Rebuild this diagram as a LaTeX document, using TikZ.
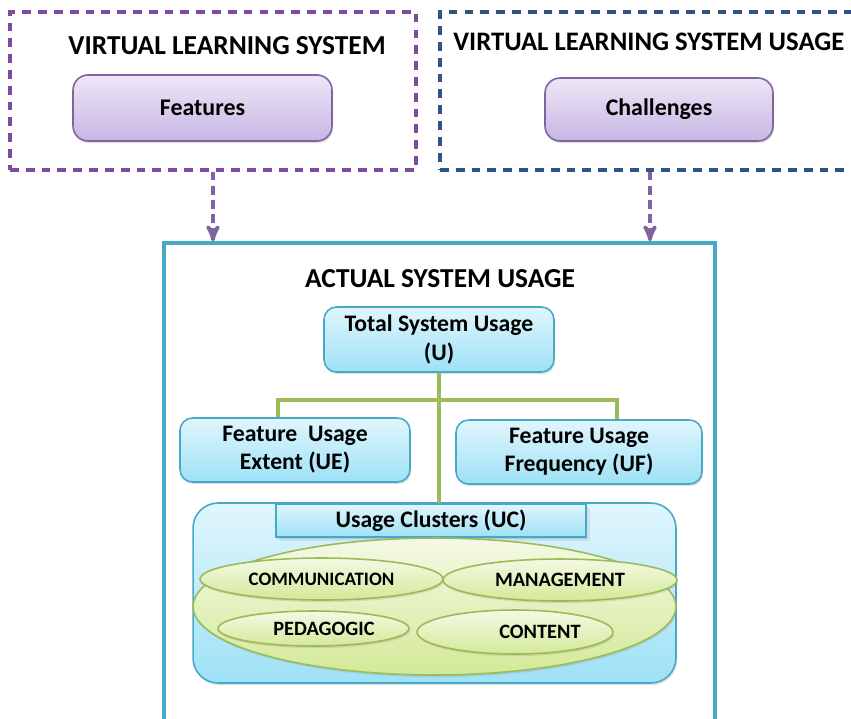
\documentclass[tikz,border=0pt]{standalone}
\usepackage{fontspec}
\setmainfont{Carlito}
\usetikzlibrary{arrows,positioning,shapes.geometric,shadows}
\definecolor{lavender}{RGB}{128,100,162}
\definecolor{lavtop}{RGB}{237,231,246}
\definecolor{lavbot}{RGB}{200,182,228}
\definecolor{dashpurple}{RGB}{125,75,160}
\definecolor{dashblue}{RGB}{47,85,130}
\definecolor{asucyan}{RGB}{70,170,198}
\definecolor{skytop}{RGB}{224,246,253}
\definecolor{skybot}{RGB}{158,225,246}
\definecolor{treegreen}{RGB}{155,187,89}
\definecolor{limetop}{RGB}{244,249,229}
\definecolor{limebot}{RGB}{212,233,152}

\begin{document}
\begin{tikzpicture}[x=0.02cm,y=-0.02cm,>=stealth',
   semithick, font=\bfseries,
   frame/.style={draw, dash pattern=on 5pt off 4pt, line width=1.9pt, inner sep=0pt},
   purplebox/.style={draw=lavender, line width=0.9pt, rounded corners=3mm, top color=lavtop, bottom color=lavbot,
      drop shadow={opacity=0.25, shadow xshift=0.6pt, shadow yshift=-1.2pt}, font=\fontsize{13.6}{16}\selectfont\bfseries},
   bluebox/.style={draw=asucyan, line width=0.9pt, rounded corners=2.5mm, top color=skytop, bottom color=skybot,
      drop shadow={opacity=0.25, shadow xshift=0.6pt, shadow yshift=-1.2pt}, align=center, font=\fontsize{13.5}{16}\selectfont\bfseries},
   blob/.style={ellipse, draw=treegreen, line width=0.9pt, inner sep=0pt, top color=limetop, bottom color=limebot,
      drop shadow={opacity=0.2, shadow xshift=0.6pt, shadow yshift=-1.2pt}, font=\fontsize{11.6}{13}\selectfont\bfseries},
   flow/.style={-stealth', draw=lavender, dash pattern=on 5pt off 3pt, line width=2pt},
   tree/.style={draw=treegreen, line width=2pt},
   heading/.style={font=\fontsize{15.6}{18}\selectfont\bfseries}]
  \clip (0,0) rectangle (851,718);
  \useasboundingbox (0,0) rectangle (851,718);

  % top row
  \node[frame, draw=dashpurple, minimum width=8.12cm, minimum height=3.16cm] (vls) at (213,91) {};
  \node[frame, draw=dashblue, minimum width=8.4cm, minimum height=3.16cm] (vlsu) at (650,91) {};
  \node[heading] (vlstitle) at (227,46) {VIRTUAL LEARNING SYSTEM};
  \node[heading, font=\fontsize{15.2}{18}\selectfont\bfseries, anchor=west] (vlsutitle) at (447,42) {VIRTUAL LEARNING SYSTEM USAGE};
  \node[purplebox, minimum width=5.18cm, minimum height=1.32cm] (feat) at (202.5,108) {Features};
  \node[purplebox, minimum width=4.56cm, minimum height=1.26cm] (chal) at (659,109.5) {Challenges};

  % actual usage
  \node[draw=asucyan, line width=2pt, minimum width=11.02cm, minimum height=9.74cm, inner sep=0pt] (asu) at (439.5,486.5) {};
  \node[heading] (asutitle) at (440,279) {ACTUAL SYSTEM USAGE};
  \node[bluebox, minimum width=4.6cm, minimum height=1.3cm] (tsu) at (439,339.5) {Total System Usage\\(U)};
  \node[bluebox, minimum width=4.6cm, minimum height=1.28cm] (ue) at (295,450) {Feature~~Usage\\Extent (UE)};
  \node[bluebox, minimum width=4.92cm, minimum height=1.28cm] (uf) at (579,452) {Feature Usage\\Frequency (UF)};

  % clusters
  \node[bluebox, rounded corners=5mm, minimum width=9.66cm, minimum height=3.6cm] (clus) at (434.5,593) {};
  \node[bluebox, rounded corners=0pt, drop shadow={opacity=0.15}, minimum width=6.2cm, minimum height=0.66cm] (uc) at (431,520.5) {Usage Clusters (UC)};
  \node[blob, minimum width=9.66cm, minimum height=2.74cm] (all) at (434.5,606.5) {};
  \node[blob, font=\fontsize{10.8}{13}\selectfont\bfseries, minimum width=4.86cm, minimum height=0.84cm] (comm) at (321.5,579) {COMMUNICATION};
  \node[blob, minimum width=4.68cm, minimum height=0.84cm] (mgmt) at (560,580) {MANAGEMENT};
  \node[blob, minimum width=3.82cm, minimum height=0.7cm] (ped) at (313.5,628.5) {\hspace*{0.42cm}PEDAGOGIC};
  \node[blob, minimum width=3.92cm, minimum height=0.88cm] (cont) at (515,632) {\hspace*{1cm}CONTENT};

  \coordinate (bus) at (439,400);
  \path[tree] (tsu.south) -- (tsu.south |- uc.north);
  \path[tree] (ue.north -| 278,0) |- (bus) -| (uf.north -| 617,0);

  \path[flow] (vls.south) -- (vls.south |- asu.north);
  \path[flow] (vlsu.south) -- (vlsu.south |- asu.north);
\end{tikzpicture}
\end{document}
